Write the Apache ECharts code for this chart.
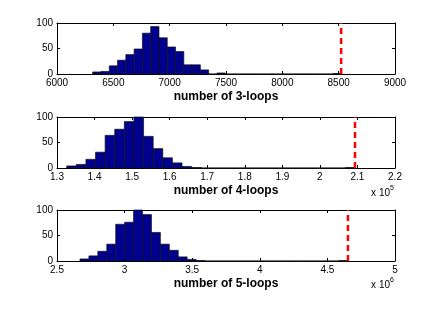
<!DOCTYPE html>
<html><head><meta charset="utf-8">
<script src="https://cdn.jsdelivr.net/npm/echarts@6/dist/echarts.min.js"></script>
<style>html,body{margin:0;padding:0;background:#fff}#c{width:436px;height:313px}</style>
</head><body><div id="c"></div>
<script>
// ---- data ----
// 30-bin histograms; the last bin holds the observed value
const counts3 = [4,5,16,27,38,49,80,93,71,53,44,18,18,8,0,2,0,0,0,0,0,0,0,0,0,0,0,0,0,1];
const counts4 = [4,7,17,31,64,76,91,100,62,38,20,10,3,1,0,0,0,0,0,0,0,0,0,0,0,0,0,0,0,1];
const counts5 = [4,10,19,33,72,76,100,91,56,33,21,8,3,1,0,0,0,0,0,0,0,0,0,0,0,0,0,0,0,1];
const range3 = [6317, 8522];        // [min, max] of samples
const range4 = [132580, 209350];
const range5 = [2670000, 4652000];
const observed3 = 8522;
const observed4 = 209350;
const observed5 = 4652000;
const xAxisMin = [6000, 130000, 2500000];
const xAxisMax = [9000, 220000, 5000000];
const xAxisStep = [500, 10000, 500000];
const xScale = [1, 1e5, 1e6];
const yTicks = [0, 50, 100];
const titles = ['number of 3-loops', 'number of 4-loops', 'number of 5-loops'];

// ---- chart ----
const FONT = '"Liberation Sans", Arial, Helvetica, sans-serif';
function bins(counts, range) {
  const w = (range[1] - range[0]) / counts.length;
  return counts.map((c, i) => [range[0] + i * w, range[0] + (i + 1) * w, c]);
}
function renderHist(params, api) {
  const p0 = api.coord([api.value(0), api.value(2)]);
  const p1 = api.coord([api.value(1), 0]);
  return {
    type: 'rect',
    shape: { x: p0[0], y: p0[1], width: p1[0] - p0[0], height: p1[1] - p0[1] },
    style: { fill: '#00008f', stroke: '#111', lineWidth: 0.7 }
  };
}
const allCounts = [counts3, counts4, counts5];
const allRanges = [range3, range4, range5];
const allObs = [observed3, observed4, observed5];
const tops = [23, 117, 210];

const grid = [], xAxis = [], yAxis = [], series = [];
for (let k = 0; k < 3; k++) {
  grid.push({ left: 57, top: tops[k], width: 338, height: 51, show: false });
  const sc = xScale[k];
  const base = {
    gridIndex: k, type: 'value', min: xAxisMin[k], max: xAxisMax[k], interval: xAxisStep[k],
    axisLine: { show: true, onZero: false, lineStyle: { color: '#000', width: 1 } },
    axisTick: { show: true, inside: true, length: 3, lineStyle: { color: '#000' } },
    splitLine: { show: false }
  };
  xAxis.push(Object.assign({}, base, {
    position: 'bottom',
    axisLabel: { show: true, margin: 4, color: '#000', fontSize: 10, fontFamily: FONT,
      formatter: v => String(+(v / sc).toFixed(2)) },
    name: titles[k], nameLocation: 'middle', nameGap: 17,
    nameTextStyle: { fontSize: 12, fontWeight: 'bold', color: '#000', fontFamily: FONT }
  }));
  xAxis.push(Object.assign({}, base, { position: 'top', axisLabel: { show: false } }));
  const ybase = {
    gridIndex: k, type: 'value', min: 0, max: 100, interval: 50,
    axisLine: { show: true, onZero: false, lineStyle: { color: '#000', width: 1 } },
    axisTick: { show: true, inside: true, length: 3, lineStyle: { color: '#000' } },
    splitLine: { show: false }
  };
  yAxis.push(Object.assign({}, ybase, { position: 'left',
    axisLabel: { show: true, margin: 4, color: '#000', fontSize: 10, fontFamily: FONT,
      formatter: v => yTicks.includes(v) ? String(v) : '' } }));
  yAxis.push(Object.assign({}, ybase, { position: 'right', axisLabel: { show: false } }));

  series.push({
    type: 'custom', xAxisIndex: 2 * k, yAxisIndex: 2 * k,
    renderItem: renderHist, encode: { x: [0, 1], y: 2 },
    data: bins(allCounts[k], allRanges[k]), silent: true, animation: false
  });
  series.push({
    type: 'line', xAxisIndex: 2 * k, yAxisIndex: 2 * k,
    data: [[allObs[k], 0], [allObs[k], 100]], symbol: 'none', silent: true, animation: false,
    lineStyle: { color: '#ff0000', width: 2.5, type: [6, 4] }, z: 5
  });
}

const graphic = [
  { type: 'text', right: 46, top: 188, style: { text: 'x 10', fontSize: 10, fontFamily: FONT, fill: '#000' } },
  { type: 'text', left: 390, top: 185, style: { text: '5', fontSize: 7, fontFamily: FONT, fill: '#000' } },
  { type: 'text', right: 46, top: 280, style: { text: 'x 10', fontSize: 10, fontFamily: FONT, fill: '#000' } },
  { type: 'text', left: 390, top: 277, style: { text: '6', fontSize: 7, fontFamily: FONT, fill: '#000' } }
];

const chart = echarts.init(document.getElementById('c'), null, { renderer: 'canvas' });
chart.setOption({ backgroundColor: '#fff', animation: false, grid, xAxis, yAxis, series, graphic });
</script>
</body></html>
